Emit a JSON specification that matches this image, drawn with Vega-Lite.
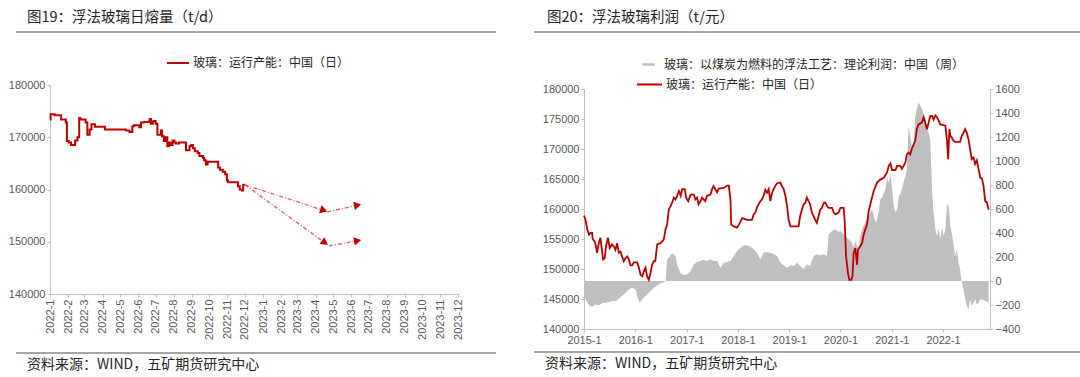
{
  "$schema": "https://vega.github.io/schema/vega-lite/v6.json",
  "background": "white",
  "padding": {"left": 7, "top": 8, "right": 0, "bottom": 0},
  "spacing": 38,
  "resolve": {"scale": {"color": "independent"}, "legend": {"color": "independent"}},
  "datasets": {
    "left": [
      {"date": "2022-01-01", "value": 173400},
      {"date": "2022-01-02", "value": 174400},
      {"date": "2022-01-09", "value": 174200},
      {"date": "2022-01-20", "value": 173400},
      {"date": "2022-01-28", "value": 172800},
      {"date": "2022-01-30", "value": 169300},
      {"date": "2022-02-02", "value": 169000},
      {"date": "2022-02-06", "value": 168500},
      {"date": "2022-02-13", "value": 169400},
      {"date": "2022-02-17", "value": 170000},
      {"date": "2022-02-20", "value": 173700},
      {"date": "2022-02-22", "value": 173400},
      {"date": "2022-03-03", "value": 172800},
      {"date": "2022-03-06", "value": 170500},
      {"date": "2022-03-10", "value": 171500},
      {"date": "2022-03-13", "value": 172500},
      {"date": "2022-03-19", "value": 172000},
      {"date": "2022-04-05", "value": 171500},
      {"date": "2022-05-11", "value": 171300},
      {"date": "2022-05-17", "value": 171000},
      {"date": "2022-05-22", "value": 172100},
      {"date": "2022-05-25", "value": 172300},
      {"date": "2022-06-03", "value": 171900},
      {"date": "2022-06-06", "value": 172800},
      {"date": "2022-06-11", "value": 172900},
      {"date": "2022-06-20", "value": 173100},
      {"date": "2022-06-21", "value": 173500},
      {"date": "2022-06-23", "value": 172600},
      {"date": "2022-06-26", "value": 173000},
      {"date": "2022-06-28", "value": 173100},
      {"date": "2022-07-01", "value": 172600},
      {"date": "2022-07-04", "value": 170500},
      {"date": "2022-07-10", "value": 171300},
      {"date": "2022-07-12", "value": 170200},
      {"date": "2022-07-15", "value": 169300},
      {"date": "2022-07-18", "value": 170000},
      {"date": "2022-07-21", "value": 168300},
      {"date": "2022-07-24", "value": 169000},
      {"date": "2022-07-27", "value": 168500},
      {"date": "2022-07-30", "value": 169400},
      {"date": "2022-08-02", "value": 169000},
      {"date": "2022-08-05", "value": 168800},
      {"date": "2022-08-10", "value": 169000},
      {"date": "2022-08-22", "value": 167500},
      {"date": "2022-08-28", "value": 168300},
      {"date": "2022-08-31", "value": 168500},
      {"date": "2022-09-03", "value": 167900},
      {"date": "2022-09-06", "value": 167300},
      {"date": "2022-09-11", "value": 167000},
      {"date": "2022-09-14", "value": 166400},
      {"date": "2022-09-20", "value": 166100},
      {"date": "2022-09-22", "value": 165600},
      {"date": "2022-09-25", "value": 164800},
      {"date": "2022-09-28", "value": 165300},
      {"date": "2022-10-16", "value": 164200},
      {"date": "2022-10-19", "value": 163800},
      {"date": "2022-10-24", "value": 163400},
      {"date": "2022-10-28", "value": 162900},
      {"date": "2022-10-31", "value": 161700},
      {"date": "2022-11-02", "value": 161400},
      {"date": "2022-11-19", "value": 160600},
      {"date": "2022-11-22", "value": 160000},
      {"date": "2022-11-26", "value": 159800},
      {"date": "2022-11-28", "value": 160900},
      {"date": "2022-12-01", "value": 160900}
    ],
    "arrows": [
      {"seg": "A", "pos": "start", "date": "2022-12-01", "value": 160900},
      {"seg": "A", "pos": "end", "date": "2023-04-15", "value": 156000},
      {"seg": "B", "pos": "start", "date": "2023-04-21", "value": 155700},
      {"seg": "B", "pos": "end", "date": "2023-06-12", "value": 157000},
      {"seg": "C", "pos": "start", "date": "2022-12-01", "value": 160900},
      {"seg": "C", "pos": "end", "date": "2023-04-17", "value": 149800},
      {"seg": "D", "pos": "start", "date": "2023-04-24", "value": 149200},
      {"seg": "D", "pos": "end", "date": "2023-06-12", "value": 150200}
    ],
    "cap": [
      {"date": "2015-01-01", "value": 158900},
      {"date": "2015-01-12", "value": 158200},
      {"date": "2015-01-24", "value": 156600},
      {"date": "2015-02-06", "value": 155700},
      {"date": "2015-02-17", "value": 156000},
      {"date": "2015-02-28", "value": 156000},
      {"date": "2015-03-04", "value": 155000},
      {"date": "2015-03-18", "value": 154600},
      {"date": "2015-03-27", "value": 153800},
      {"date": "2015-04-04", "value": 152700},
      {"date": "2015-04-16", "value": 154300},
      {"date": "2015-04-28", "value": 155200},
      {"date": "2015-05-05", "value": 153800},
      {"date": "2015-05-17", "value": 151600},
      {"date": "2015-05-28", "value": 151800},
      {"date": "2015-06-07", "value": 153800},
      {"date": "2015-06-21", "value": 155200},
      {"date": "2015-07-03", "value": 153500},
      {"date": "2015-07-19", "value": 154100},
      {"date": "2015-08-01", "value": 153800},
      {"date": "2015-08-13", "value": 153200},
      {"date": "2015-08-25", "value": 154300},
      {"date": "2015-09-06", "value": 152700},
      {"date": "2015-09-18", "value": 152900},
      {"date": "2015-09-29", "value": 152100},
      {"date": "2015-10-11", "value": 151300},
      {"date": "2015-10-23", "value": 151800},
      {"date": "2015-11-05", "value": 152100},
      {"date": "2015-11-16", "value": 151600},
      {"date": "2015-11-28", "value": 150600},
      {"date": "2015-12-10", "value": 150600},
      {"date": "2015-12-22", "value": 151100},
      {"date": "2016-01-15", "value": 151100},
      {"date": "2016-01-27", "value": 150200},
      {"date": "2016-02-08", "value": 149000},
      {"date": "2016-02-20", "value": 148800},
      {"date": "2016-03-02", "value": 149600},
      {"date": "2016-03-14", "value": 150200},
      {"date": "2016-03-25", "value": 148800},
      {"date": "2016-04-07", "value": 148200},
      {"date": "2016-04-18", "value": 149300},
      {"date": "2016-04-30", "value": 150700},
      {"date": "2016-05-12", "value": 151300},
      {"date": "2016-05-23", "value": 151300},
      {"date": "2016-06-05", "value": 154100},
      {"date": "2016-06-28", "value": 154300},
      {"date": "2016-07-22", "value": 154900},
      {"date": "2016-08-03", "value": 156600},
      {"date": "2016-08-15", "value": 157400},
      {"date": "2016-08-27", "value": 159900},
      {"date": "2016-09-15", "value": 160800},
      {"date": "2016-10-02", "value": 161900},
      {"date": "2016-10-14", "value": 161600},
      {"date": "2016-10-25", "value": 162200},
      {"date": "2016-11-07", "value": 163000},
      {"date": "2016-11-19", "value": 162200},
      {"date": "2016-11-30", "value": 163300},
      {"date": "2016-12-19", "value": 163300},
      {"date": "2016-12-28", "value": 161900},
      {"date": "2017-01-12", "value": 161300},
      {"date": "2017-01-29", "value": 162400},
      {"date": "2017-02-22", "value": 162400},
      {"date": "2017-03-04", "value": 161600},
      {"date": "2017-03-16", "value": 161900},
      {"date": "2017-03-27", "value": 160800},
      {"date": "2017-04-09", "value": 161300},
      {"date": "2017-04-21", "value": 161900},
      {"date": "2017-05-02", "value": 161600},
      {"date": "2017-05-14", "value": 161300},
      {"date": "2017-05-26", "value": 162200},
      {"date": "2017-06-19", "value": 162400},
      {"date": "2017-07-01", "value": 163300},
      {"date": "2017-07-12", "value": 163800},
      {"date": "2017-07-24", "value": 163300},
      {"date": "2017-08-06", "value": 162800},
      {"date": "2017-08-17", "value": 163400},
      {"date": "2017-09-23", "value": 163500},
      {"date": "2017-10-16", "value": 163900},
      {"date": "2017-10-28", "value": 163900},
      {"date": "2017-11-09", "value": 161600},
      {"date": "2017-11-14", "value": 157400},
      {"date": "2017-12-03", "value": 157100},
      {"date": "2017-12-26", "value": 156900},
      {"date": "2018-01-08", "value": 157400},
      {"date": "2018-02-01", "value": 158500},
      {"date": "2018-02-13", "value": 158400},
      {"date": "2018-03-06", "value": 158200},
      {"date": "2018-04-11", "value": 158200},
      {"date": "2018-04-23", "value": 159100},
      {"date": "2018-05-05", "value": 159400},
      {"date": "2018-05-16", "value": 160200},
      {"date": "2018-05-28", "value": 160800},
      {"date": "2018-06-10", "value": 161300},
      {"date": "2018-06-21", "value": 161600},
      {"date": "2018-07-03", "value": 162200},
      {"date": "2018-07-15", "value": 163200},
      {"date": "2018-07-27", "value": 162700},
      {"date": "2018-08-08", "value": 163300},
      {"date": "2018-08-20", "value": 161300},
      {"date": "2018-08-27", "value": 162200},
      {"date": "2018-09-06", "value": 163000},
      {"date": "2018-09-25", "value": 163900},
      {"date": "2018-10-07", "value": 164300},
      {"date": "2018-10-30", "value": 164400},
      {"date": "2018-11-11", "value": 163800},
      {"date": "2018-11-23", "value": 163300},
      {"date": "2018-12-05", "value": 162200},
      {"date": "2018-12-17", "value": 160500},
      {"date": "2018-12-28", "value": 158200},
      {"date": "2019-01-10", "value": 157100},
      {"date": "2019-02-03", "value": 157100},
      {"date": "2019-03-09", "value": 157100},
      {"date": "2019-03-20", "value": 158800},
      {"date": "2019-04-02", "value": 159900},
      {"date": "2019-04-14", "value": 160800},
      {"date": "2019-04-25", "value": 161000},
      {"date": "2019-05-07", "value": 161900},
      {"date": "2019-05-19", "value": 161300},
      {"date": "2019-05-30", "value": 160800},
      {"date": "2019-06-12", "value": 159400},
      {"date": "2019-06-24", "value": 158800},
      {"date": "2019-07-05", "value": 158200},
      {"date": "2019-07-17", "value": 157700},
      {"date": "2019-07-29", "value": 158800},
      {"date": "2019-08-10", "value": 159900},
      {"date": "2019-08-22", "value": 160200},
      {"date": "2019-09-04", "value": 161000},
      {"date": "2019-09-15", "value": 161100},
      {"date": "2019-09-27", "value": 160500},
      {"date": "2019-10-09", "value": 160200},
      {"date": "2019-11-02", "value": 160200},
      {"date": "2019-11-14", "value": 159400},
      {"date": "2019-11-26", "value": 159100},
      {"date": "2019-12-19", "value": 159400},
      {"date": "2020-01-01", "value": 160200},
      {"date": "2020-01-24", "value": 160200},
      {"date": "2020-02-01", "value": 157700},
      {"date": "2020-02-10", "value": 152100},
      {"date": "2020-02-24", "value": 149300},
      {"date": "2020-03-04", "value": 148200},
      {"date": "2020-03-18", "value": 148200},
      {"date": "2020-03-27", "value": 148800},
      {"date": "2020-04-04", "value": 152700},
      {"date": "2020-04-16", "value": 153500},
      {"date": "2020-04-28", "value": 150700},
      {"date": "2020-05-05", "value": 153200},
      {"date": "2020-05-21", "value": 153800},
      {"date": "2020-06-03", "value": 154300},
      {"date": "2020-06-14", "value": 155700},
      {"date": "2020-06-26", "value": 156600},
      {"date": "2020-07-08", "value": 157400},
      {"date": "2020-07-20", "value": 159600},
      {"date": "2020-08-01", "value": 160800},
      {"date": "2020-08-25", "value": 163000},
      {"date": "2020-09-18", "value": 164400},
      {"date": "2020-10-11", "value": 164900},
      {"date": "2020-11-05", "value": 165200},
      {"date": "2020-11-28", "value": 166100},
      {"date": "2020-12-10", "value": 167200},
      {"date": "2020-12-22", "value": 167600},
      {"date": "2021-01-03", "value": 166500},
      {"date": "2021-01-27", "value": 166500},
      {"date": "2021-02-08", "value": 167200},
      {"date": "2021-03-02", "value": 167200},
      {"date": "2021-03-14", "value": 166700},
      {"date": "2021-04-07", "value": 167700},
      {"date": "2021-04-18", "value": 169100},
      {"date": "2021-04-30", "value": 169400},
      {"date": "2021-05-12", "value": 169100},
      {"date": "2021-05-23", "value": 170000},
      {"date": "2021-06-17", "value": 171400},
      {"date": "2021-06-28", "value": 173300},
      {"date": "2021-07-10", "value": 174100},
      {"date": "2021-08-03", "value": 174400},
      {"date": "2021-08-15", "value": 175300},
      {"date": "2021-08-27", "value": 174400},
      {"date": "2021-09-08", "value": 173300},
      {"date": "2021-09-20", "value": 174400},
      {"date": "2021-10-02", "value": 175500},
      {"date": "2021-10-14", "value": 175500},
      {"date": "2021-10-25", "value": 174900},
      {"date": "2021-11-07", "value": 175600},
      {"date": "2021-11-19", "value": 175300},
      {"date": "2021-12-12", "value": 174100},
      {"date": "2022-01-05", "value": 174000},
      {"date": "2022-01-17", "value": 173900},
      {"date": "2022-01-29", "value": 171400},
      {"date": "2022-02-06", "value": 168300},
      {"date": "2022-02-15", "value": 173300},
      {"date": "2022-02-22", "value": 172200},
      {"date": "2022-03-04", "value": 171900},
      {"date": "2022-03-16", "value": 171400},
      {"date": "2022-03-27", "value": 171200},
      {"date": "2022-05-02", "value": 171200},
      {"date": "2022-05-14", "value": 172200},
      {"date": "2022-05-26", "value": 172700},
      {"date": "2022-06-07", "value": 173300},
      {"date": "2022-06-19", "value": 172700},
      {"date": "2022-07-01", "value": 171600},
      {"date": "2022-07-12", "value": 170000},
      {"date": "2022-07-24", "value": 168300},
      {"date": "2022-08-06", "value": 168600},
      {"date": "2022-08-17", "value": 167500},
      {"date": "2022-08-29", "value": 168100},
      {"date": "2022-09-11", "value": 166600},
      {"date": "2022-09-23", "value": 165200},
      {"date": "2022-10-04", "value": 165100},
      {"date": "2022-10-16", "value": 163800},
      {"date": "2022-10-28", "value": 161300},
      {"date": "2022-11-09", "value": 161100},
      {"date": "2022-11-21", "value": 159900}
    ],
    "profit": [
      {"date": "2015-01-01", "profit": -97},
      {"date": "2015-01-12", "profit": -153},
      {"date": "2015-02-06", "profit": -203},
      {"date": "2015-02-28", "profit": -214},
      {"date": "2015-03-23", "profit": -195},
      {"date": "2015-04-16", "profit": -203},
      {"date": "2015-05-10", "profit": -186},
      {"date": "2015-06-03", "profit": -181},
      {"date": "2015-06-26", "profit": -175},
      {"date": "2015-07-19", "profit": -167},
      {"date": "2015-08-13", "profit": -167},
      {"date": "2015-09-06", "profit": -147},
      {"date": "2015-09-29", "profit": -125},
      {"date": "2015-10-23", "profit": -97},
      {"date": "2015-11-16", "profit": -70},
      {"date": "2015-12-10", "profit": -56},
      {"date": "2016-01-03", "profit": -70},
      {"date": "2016-01-15", "profit": -125},
      {"date": "2016-02-01", "profit": -186},
      {"date": "2016-02-20", "profit": -153},
      {"date": "2016-03-14", "profit": -125},
      {"date": "2016-04-07", "profit": -97},
      {"date": "2016-04-30", "profit": -70},
      {"date": "2016-05-23", "profit": -47},
      {"date": "2016-06-17", "profit": -28},
      {"date": "2016-07-10", "profit": -14},
      {"date": "2016-08-03", "profit": -3},
      {"date": "2016-08-15", "profit": 181},
      {"date": "2016-08-27", "profit": 195},
      {"date": "2016-09-20", "profit": 231},
      {"date": "2016-10-14", "profit": 209},
      {"date": "2016-10-25", "profit": 139},
      {"date": "2016-11-07", "profit": 97},
      {"date": "2016-11-19", "profit": 64},
      {"date": "2016-12-12", "profit": 47},
      {"date": "2017-01-06", "profit": 56},
      {"date": "2017-01-29", "profit": 83},
      {"date": "2017-02-22", "profit": 139},
      {"date": "2017-03-16", "profit": 159},
      {"date": "2017-04-09", "profit": 167},
      {"date": "2017-05-02", "profit": 175},
      {"date": "2017-05-26", "profit": 167},
      {"date": "2017-06-19", "profit": 181},
      {"date": "2017-07-12", "profit": 167},
      {"date": "2017-08-06", "profit": 167},
      {"date": "2017-08-29", "profit": 111},
      {"date": "2017-09-23", "profit": 153},
      {"date": "2017-10-16", "profit": 159},
      {"date": "2017-11-09", "profit": 167},
      {"date": "2017-12-03", "profit": 209},
      {"date": "2017-12-26", "profit": 250},
      {"date": "2018-01-19", "profit": 278},
      {"date": "2018-02-13", "profit": 298},
      {"date": "2018-03-06", "profit": 298},
      {"date": "2018-03-30", "profit": 287},
      {"date": "2018-04-23", "profit": 264},
      {"date": "2018-05-16", "profit": 236},
      {"date": "2018-06-10", "profit": 181},
      {"date": "2018-07-03", "profit": 236},
      {"date": "2018-07-27", "profit": 242},
      {"date": "2018-08-20", "profit": 236},
      {"date": "2018-09-13", "profit": 223},
      {"date": "2018-10-07", "profit": 209},
      {"date": "2018-10-30", "profit": 153},
      {"date": "2018-11-23", "profit": 131},
      {"date": "2018-12-17", "profit": 111},
      {"date": "2019-01-10", "profit": 131},
      {"date": "2019-02-03", "profit": 125},
      {"date": "2019-02-27", "profit": 153},
      {"date": "2019-03-20", "profit": 125},
      {"date": "2019-04-14", "profit": 97},
      {"date": "2019-05-07", "profit": 139},
      {"date": "2019-05-30", "profit": 125},
      {"date": "2019-06-24", "profit": 209},
      {"date": "2019-07-17", "profit": 223},
      {"date": "2019-08-10", "profit": 214},
      {"date": "2019-09-04", "profit": 223},
      {"date": "2019-09-27", "profit": 209},
      {"date": "2019-10-09", "profit": 390},
      {"date": "2019-11-02", "profit": 417},
      {"date": "2019-11-26", "profit": 431},
      {"date": "2019-12-19", "profit": 409},
      {"date": "2020-01-01", "profit": 417},
      {"date": "2020-01-24", "profit": 390},
      {"date": "2020-02-06", "profit": 376},
      {"date": "2020-02-29", "profit": 348},
      {"date": "2020-03-23", "profit": 320},
      {"date": "2020-04-04", "profit": 278},
      {"date": "2020-04-16", "profit": 334},
      {"date": "2020-04-28", "profit": 292},
      {"date": "2020-05-10", "profit": 278},
      {"date": "2020-05-21", "profit": 376},
      {"date": "2020-06-03", "profit": 431},
      {"date": "2020-06-26", "profit": 487},
      {"date": "2020-07-20", "profit": 543},
      {"date": "2020-08-13", "profit": 598},
      {"date": "2020-08-25", "profit": 543},
      {"date": "2020-09-06", "profit": 487},
      {"date": "2020-09-18", "profit": 515},
      {"date": "2020-09-30", "profit": 584},
      {"date": "2020-10-11", "profit": 682},
      {"date": "2020-10-23", "profit": 696},
      {"date": "2020-11-16", "profit": 765},
      {"date": "2020-11-28", "profit": 863},
      {"date": "2020-12-10", "profit": 821},
      {"date": "2020-12-22", "profit": 890},
      {"date": "2021-01-03", "profit": 765},
      {"date": "2021-01-15", "profit": 626},
      {"date": "2021-01-27", "profit": 570},
      {"date": "2021-02-08", "profit": 598},
      {"date": "2021-02-20", "profit": 710},
      {"date": "2021-03-02", "profit": 723},
      {"date": "2021-03-14", "profit": 765},
      {"date": "2021-03-25", "profit": 821},
      {"date": "2021-04-07", "profit": 876},
      {"date": "2021-04-18", "profit": 932},
      {"date": "2021-04-30", "profit": 1294},
      {"date": "2021-05-12", "profit": 1210},
      {"date": "2021-05-23", "profit": 1127},
      {"date": "2021-06-05", "profit": 1141},
      {"date": "2021-06-17", "profit": 1377},
      {"date": "2021-06-28", "profit": 1433},
      {"date": "2021-07-10", "profit": 1489},
      {"date": "2021-07-22", "profit": 1461},
      {"date": "2021-08-03", "profit": 1439},
      {"date": "2021-08-15", "profit": 1391},
      {"date": "2021-08-27", "profit": 1349},
      {"date": "2021-09-08", "profit": 1266},
      {"date": "2021-09-20", "profit": 1238},
      {"date": "2021-10-02", "profit": 1169},
      {"date": "2021-10-14", "profit": 765},
      {"date": "2021-10-25", "profit": 570},
      {"date": "2021-11-07", "profit": 431},
      {"date": "2021-11-19", "profit": 376},
      {"date": "2021-11-30", "profit": 431},
      {"date": "2021-12-12", "profit": 348},
      {"date": "2021-12-24", "profit": 445},
      {"date": "2022-01-05", "profit": 376},
      {"date": "2022-01-17", "profit": 431},
      {"date": "2022-01-29", "profit": 640},
      {"date": "2022-02-10", "profit": 626},
      {"date": "2022-02-22", "profit": 459},
      {"date": "2022-03-04", "profit": 403},
      {"date": "2022-03-16", "profit": 306},
      {"date": "2022-03-27", "profit": 209},
      {"date": "2022-04-09", "profit": 264},
      {"date": "2022-04-21", "profit": 153},
      {"date": "2022-05-02", "profit": 97},
      {"date": "2022-05-14", "profit": -14},
      {"date": "2022-05-26", "profit": -70},
      {"date": "2022-06-07", "profit": -153},
      {"date": "2022-06-19", "profit": -209},
      {"date": "2022-07-01", "profit": -236},
      {"date": "2022-07-12", "profit": -153},
      {"date": "2022-07-24", "profit": -209},
      {"date": "2022-08-06", "profit": -181},
      {"date": "2022-08-17", "profit": -153},
      {"date": "2022-08-29", "profit": -195},
      {"date": "2022-09-11", "profit": -181},
      {"date": "2022-09-23", "profit": -153},
      {"date": "2022-10-04", "profit": -153},
      {"date": "2022-10-28", "profit": -167},
      {"date": "2022-11-21", "profit": -181}
    ]
  },
  "hconcat": [
    {
      "spacing": 12,
      "resolve": {"scale": {"color": "independent"}, "legend": {"color": "independent"}},
      "vconcat": [
        {
          "spacing": 17,
          "resolve": {"scale": {"color": "independent"}, "legend": {"color": "independent"}},
          "vconcat": [
            {
              "data": {"values": []},
              "width": 478,
              "height": 0.01,
              "view": {"stroke": "#a6a6a6", "strokeWidth": 2},
              "title": {"text": "图19：浮法玻璃日熔量（t/d）", "anchor": "start", "frame": "group", "dx": 10, "offset": 7, "fontSize": 14.5},
              "mark": "rule",
              "encoding": {}
            },
            {
              "spacing": -11,
              "resolve": {"scale": {"color": "independent"}, "legend": {"color": "independent"}},
              "hconcat": [
                {
                  "data": {"values": []},
                  "width": 0.01,
                  "height": 0.01,
                  "mark": "rule",
                  "encoding": {}
                },
                {
                  "width": 408,
                  "height": 209,
                  "layer": [
                    {
                      "data": {"name": "left"},
                      "mark": {"type": "line", "interpolate": "step-after", "strokeWidth": 2},
                      "encoding": {
                        "x": {"field": "date", "type": "temporal", "scale": {"type": "utc", "domain": ["2022-01-01", "2023-12-01"], "nice": false},
                          "axis": {"title": null, "format": "%Y-%-m", "tickCount": {"interval": "month", "step": 1}, "labelAngle": 270, "labelFlush": false, "labelOverlap": false, "labelPadding": 2}},
                        "y": {"field": "value", "type": "quantitative", "scale": {"domain": [140000, 180000], "nice": false},
                          "axis": {"title": null, "format": "d", "values": [140000, 145000, 150000, 155000, 160000, 165000, 170000, 175000, 180000], "minExtent": 43}},
                        "color": {"datum": "玻璃：运行产能：中国（日）", "scale": {"range": ["#c00000"]},
                          "legend": {"title": null, "orient": "none", "legendX": 116, "legendY": -34, "symbolType": "stroke", "symbolSize": 484, "symbolStrokeWidth": 2, "labelOffset": 3}}
                      }
                    },
                    {
                      "data": {"name": "arrows"},
                      "mark": {"type": "line", "color": "#e85a5a", "strokeWidth": 1.3, "strokeDash": [4, 2, 1, 2]},
                      "encoding": {
                        "x": {"field": "date", "type": "temporal"},
                        "y": {"field": "value", "type": "quantitative"},
                        "detail": {"field": "seg"}
                      }
                    },
                    {
                      "data": {"name": "arrows"},
                      "transform": [{"filter": "datum.seg == 'A' && datum.pos == 'end'"}],
                      "mark": {"type": "point", "shape": "triangle-right", "filled": true, "size": 70, "opacity": 1, "color": "#c00000", "angle": 18},
                      "encoding": {"x": {"field": "date", "type": "temporal"}, "y": {"field": "value", "type": "quantitative"}}
                    },
                    {
                      "data": {"name": "arrows"},
                      "transform": [{"filter": "datum.seg == 'B' && datum.pos == 'end'"}],
                      "mark": {"type": "point", "shape": "triangle-right", "filled": true, "size": 70, "opacity": 1, "color": "#c00000", "angle": -12},
                      "encoding": {"x": {"field": "date", "type": "temporal"}, "y": {"field": "value", "type": "quantitative"}}
                    },
                    {
                      "data": {"name": "arrows"},
                      "transform": [{"filter": "datum.seg == 'C' && datum.pos == 'end'"}],
                      "mark": {"type": "point", "shape": "triangle-right", "filled": true, "size": 70, "opacity": 1, "color": "#c00000", "angle": 36},
                      "encoding": {"x": {"field": "date", "type": "temporal"}, "y": {"field": "value", "type": "quantitative"}}
                    },
                    {
                      "data": {"name": "arrows"},
                      "transform": [{"filter": "datum.seg == 'D' && datum.pos == 'end'"}],
                      "mark": {"type": "point", "shape": "triangle-right", "filled": true, "size": 70, "opacity": 1, "color": "#c00000", "angle": -10},
                      "encoding": {"x": {"field": "date", "type": "temporal"}, "y": {"field": "value", "type": "quantitative"}}
                    }
                  ]
                }
              ]
            }
          ]
        },
        {
          "data": {"values": []},
          "width": 478,
          "height": 0.01,
          "view": {"stroke": "#a6a6a6", "strokeWidth": 2},
          "title": {"text": "资料来源：WIND，五矿期货研究中心", "orient": "bottom", "anchor": "start", "frame": "group", "dx": 10, "offset": 5},
          "mark": "rule",
          "encoding": {}
        }
      ]
    },
    {
      "spacing": 6,
      "resolve": {"scale": {"color": "independent"}, "legend": {"color": "independent"}},
      "vconcat": [
        {
          "spacing": 18,
          "resolve": {"scale": {"color": "independent"}, "legend": {"color": "independent"}},
          "vconcat": [
            {
              "data": {"values": []},
              "width": 547,
              "height": 0.01,
              "view": {"stroke": "#a6a6a6", "strokeWidth": 2},
              "title": {"text": "图20：浮法玻璃利润（t/元）", "anchor": "start", "frame": "group", "dx": 12, "offset": 7, "fontSize": 14.5},
              "mark": "rule",
              "encoding": {}
            },
            {
              "spacing": 6,
              "resolve": {"scale": {"color": "independent"}, "legend": {"color": "independent"}},
              "hconcat": [
                {
                  "data": {"values": []},
                  "width": 0.01,
                  "height": 0.01,
                  "mark": "rule",
                  "encoding": {}
                },
                {
                  "width": 406,
                  "height": 240,
                  "layer": [
                    {
                      "data": {"name": "profit"},
                      "mark": {"type": "area", "interpolate": "linear"},
                      "encoding": {
                        "x": {"field": "date", "type": "temporal", "scale": {"type": "utc", "domain": ["2015-01-01", "2022-12-01"], "nice": false},
                          "axis": {"title": null, "format": "%Y-%-m", "tickCount": {"interval": "year", "step": 1}, "labelAngle": 0, "labelFlush": false, "labelOverlap": false, "labelPadding": 2}},
                        "y": {"field": "profit", "type": "quantitative", "scale": {"domain": [-400, 1600], "nice": false},
                          "axis": {"title": null, "orient": "right", "format": "d", "values": [-400, -200, 0, 200, 400, 600, 800, 1000, 1200, 1400, 1600]}},
                        "color": {"datum": "玻璃：以煤炭为燃料的浮法工艺：理论利润：中国（周）", "scale": {"range": ["#bfbfbf"]},
                          "legend": {"title": null, "orient": "none", "legendX": 52, "legendY": -37, "symbolType": "M-0.5,-0.1H0.5V0.1H-0.5Z", "symbolSize": 625, "symbolStrokeWidth": 0, "labelOffset": 3}}
                      }
                    },
                    {
                      "data": {"name": "cap"},
                      "mark": {"type": "line", "strokeWidth": 1.8},
                      "encoding": {
                        "x": {"field": "date", "type": "temporal"},
                        "y": {"field": "value", "type": "quantitative", "scale": {"domain": [140000, 180000], "nice": false},
                          "axis": {"title": null, "orient": "left", "format": "d", "values": [140000, 145000, 150000, 155000, 160000, 165000, 170000, 175000, 180000], "minExtent": 42}},
                        "color": {"datum": "玻璃：运行产能：中国（日）", "scale": {"range": ["#c00000"]},
                          "legend": {"title": null, "orient": "none", "legendX": 52, "legendY": -18, "symbolType": "stroke", "symbolSize": 625, "symbolStrokeWidth": 2, "labelOffset": 3}}
                      }
                    }
                  ],
                  "resolve": {"scale": {"y": "independent", "color": "independent"}}
                }
              ]
            }
          ]
        },
        {
          "data": {"values": []},
          "width": 547,
          "height": 0.01,
          "view": {"stroke": "#a6a6a6", "strokeWidth": 2},
          "title": {"text": "资料来源：WIND，五矿期货研究中心", "orient": "bottom", "anchor": "start", "frame": "group", "dx": 10, "offset": 5},
          "mark": "rule",
          "encoding": {}
        }
      ]
    }
  ],
  "config": {
    "view": {"stroke": null},
    "title": {"font": "Noto Sans CJK SC", "fontSize": 14, "fontWeight": "normal", "color": "#262626"},
    "axis": {"labelFont": "Liberation Sans", "labelFontSize": 11, "labelColor": "#595959", "domainColor": "#bfbfbf", "tickColor": "#bfbfbf", "grid": false, "tickSize": 3, "labelPadding": 2},
    "legend": {"labelFont": "Noto Sans CJK SC", "labelFontSize": 12, "labelColor": "#262626", "labelLimit": 0, "padding": 0}
  }
}
